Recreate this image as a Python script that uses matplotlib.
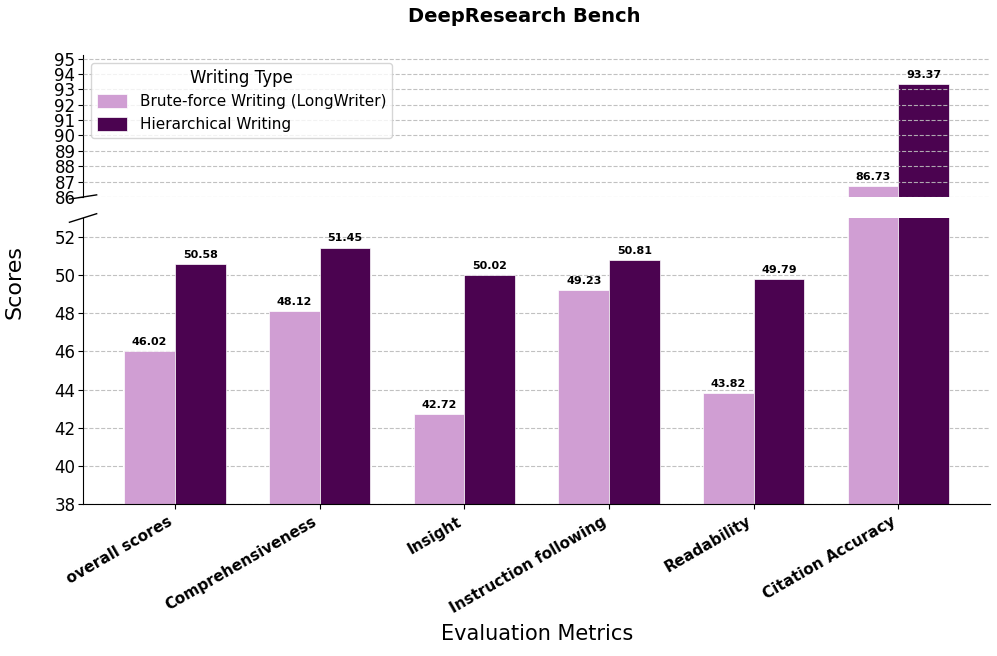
import matplotlib
matplotlib.use("Agg")
import matplotlib.pyplot as plt
import numpy as np

categories = ["overall scores", "Comprehensiveness", "Insight",
              "Instruction following", "Readability", "Citation Accuracy"]
brute_force = [46.02, 48.12, 42.72, 49.23, 43.82, 86.73]
hierarchical = [50.58, 51.45, 50.02, 50.81, 49.79, 93.37]
series_names = ["Brute-force Writing (LongWriter)", "Hierarchical Writing"]
colors = ["#D09ED3", "#4B0350"]

fig = plt.figure(figsize=(9.97, 6.56), dpi=100)
ax_top = fig.add_axes([0.0833, 0.6997, 0.910, 0.2165])
ax_bot = fig.add_axes([0.0833, 0.2317, 0.910, 0.436])

x = np.arange(len(categories))
w = 0.35
for ax in (ax_top, ax_bot):
    ax.bar(x - w / 2, brute_force, w, color=colors[0], edgecolor="white",
           linewidth=0.5, label=series_names[0])
    ax.bar(x + w / 2, hierarchical, w, color=colors[1], edgecolor="white",
           linewidth=0.5, label=series_names[1])
    ax.grid(axis="y", linestyle="--", color="#bbbbbb", linewidth=0.8, alpha=0.9)
    ax.spines["top"].set_visible(False)
    ax.spines["right"].set_visible(False)
    ax.tick_params(axis="y", labelsize=12, pad=2)

ax_top.set_axisbelow(False)
ax_bot.set_axisbelow(True)

top_lim = (86, max(hierarchical) * 1.02)
bot_lim = (38, 53)
ax_top.set_ylim(*top_lim)
ax_bot.set_ylim(*bot_lim)
ax_top.set_yticks(np.arange(86, 96, 1))
ax_bot.set_yticks(np.arange(38, 53, 2))

ax_top.spines["bottom"].set_visible(False)
ax_top.tick_params(axis="x", bottom=False, labelbottom=False)
ax_top.set_xlim(ax_bot.get_xlim())

for vals, offs in ((brute_force, -w / 2), (hierarchical, w / 2)):
    for xi, v in zip(x, vals):
        ax = ax_top if v > bot_lim[1] else ax_bot
        ax.annotate(f"{v:.2f}", (xi + offs, v), xytext=(0, 3),
                    textcoords="offset points", ha="center", va="bottom",
                    fontsize=8, fontweight="bold")

ax_bot.set_xticks(x)
ax_bot.set_xticklabels(categories, rotation=30, ha="right", fontsize=11,
                       fontweight="bold")
ax_bot.set_xlabel("Evaluation Metrics", fontsize=15, labelpad=6)
fig.text(0.015, 0.57, "Scores", rotation=90, fontsize=16, va="center", ha="center")
fig.text(0.526, 0.975, "DeepResearch Bench", fontsize=14, fontweight="bold",
         ha="center", va="center")

d = 0.015
kw = dict(color="k", clip_on=False, linewidth=1)
ax_top.plot((-d, d), (-d, d), transform=ax_top.transAxes, **kw)
ax_bot.plot((-d, d), (1 - d, 1 + d), transform=ax_bot.transAxes, **kw)

ax_top.legend(title="Writing Type", loc="upper left", fontsize=11,
              title_fontsize=12, handleheight=1.0)

fig.savefig("out.png", dpi=100)
